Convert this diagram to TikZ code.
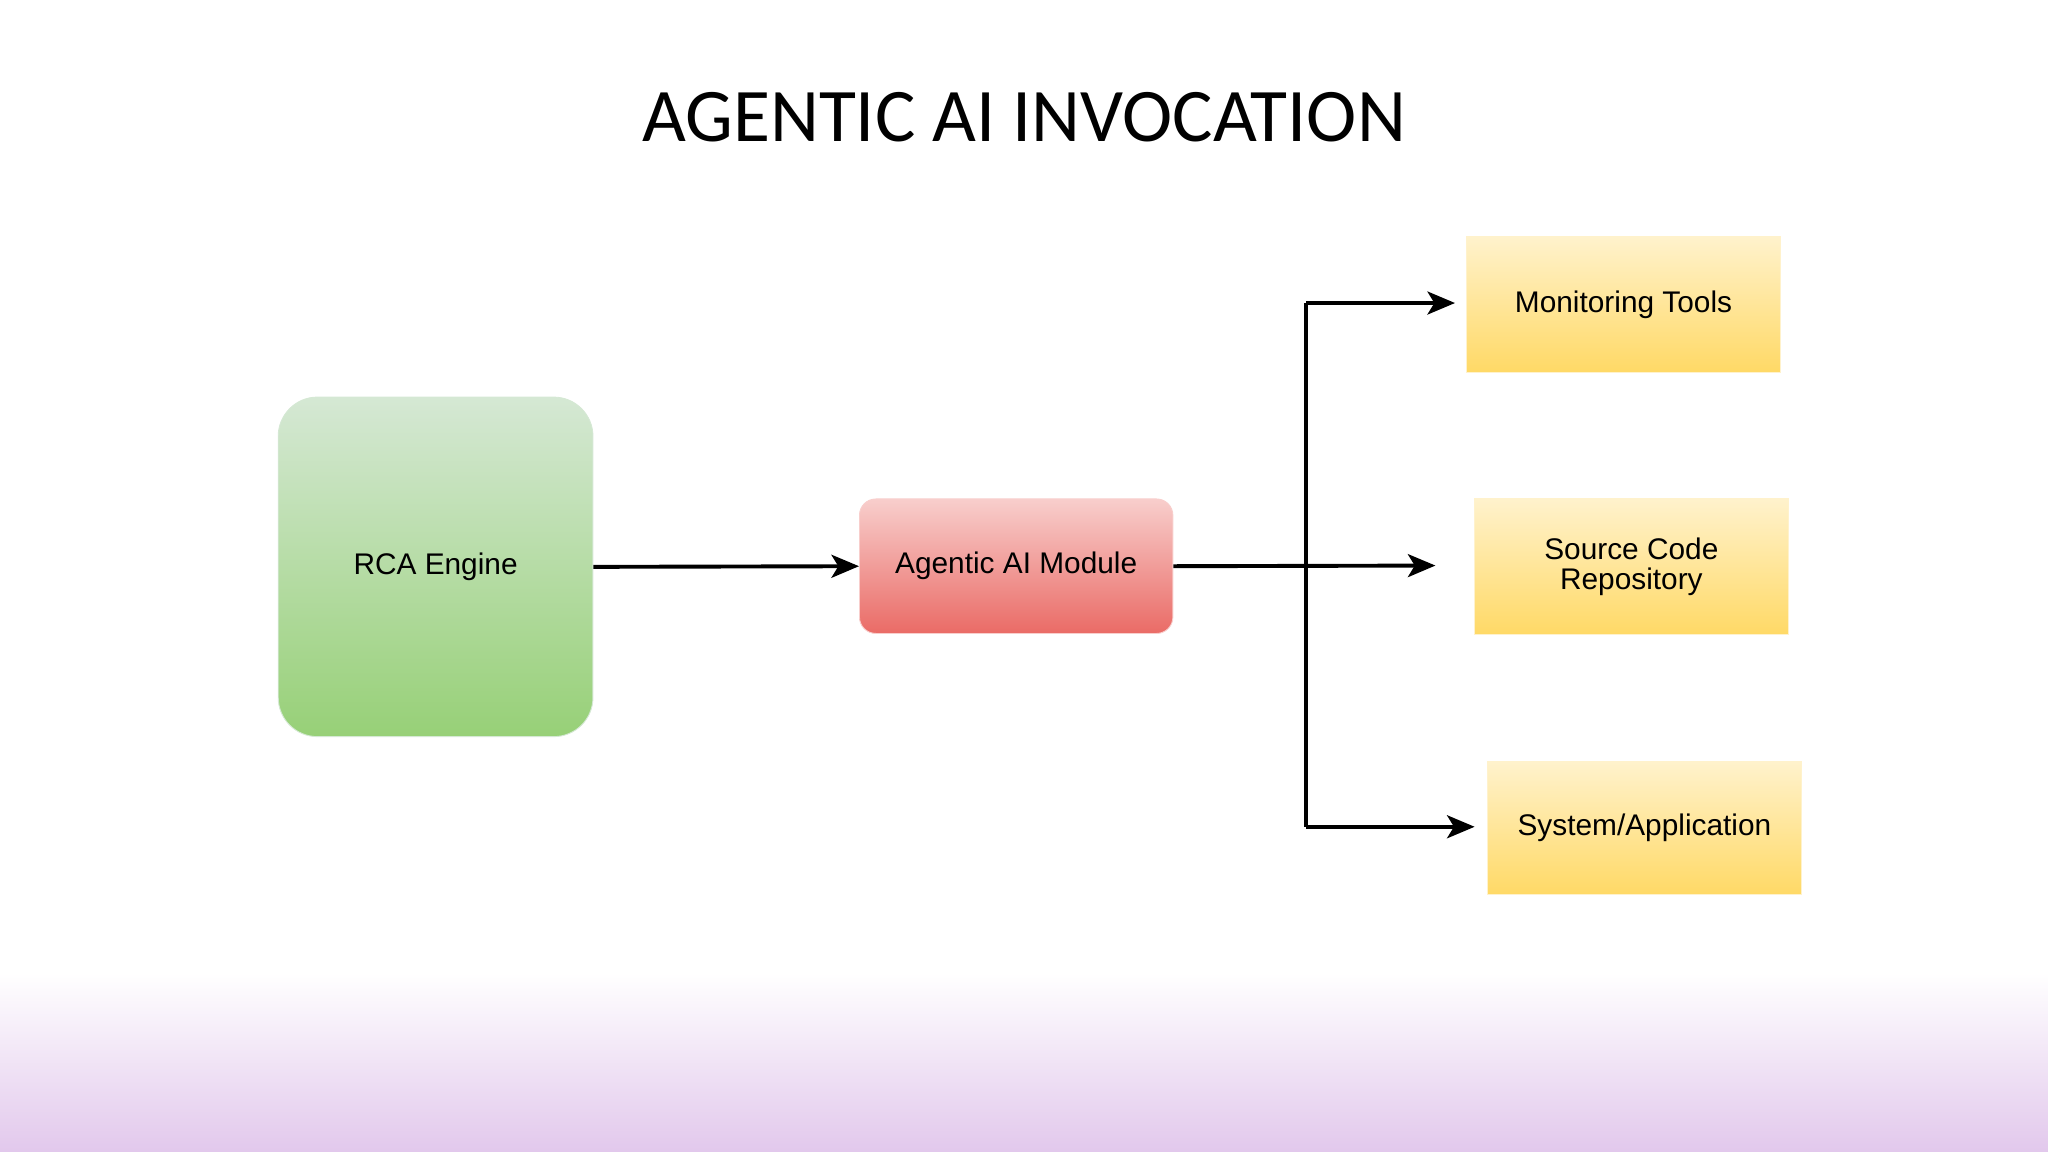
\documentclass[tikz,border=0pt]{standalone}
\usepackage{fontspec}
\setmainfont{Liberation Sans}
\newfontfamily\titlefont{Carlito}
\usetikzlibrary{arrows.meta}
\definecolor{lav}{HTML}{E2C8EC}
\definecolor{gtop}{HTML}{D5E8D4}\definecolor{gbot}{HTML}{97D077}
\definecolor{rtop}{HTML}{F8CECC}\definecolor{rbot}{HTML}{EA6B66}
\definecolor{ytop}{HTML}{FFF2CC}\definecolor{ybot}{HTML}{FFD966}
\begin{document}
\begin{tikzpicture}[x=0.02cm,y=-0.02cm,
  box/.style={draw=#1,line width=0.4pt,inner sep=0pt,align=center,font=\fontsize{13}{15}\selectfont},
  conn/.style={line width=1.7pt,-{Stealth[length=12pt,width=10pt,inset=3pt]}},
  wire/.style={line width=1.7pt}]
\useasboundingbox (0,0) rectangle (1568,882);
\shade[top color=white,bottom color=lav] (0,745) rectangle (1568,882);
\node[font=\titlefont\fontsize{33}{36}\selectfont] (title) at (784,90) {AGENTIC AI INVOCATION};
\node[box=gtop,rounded corners=0.6cm,minimum width=4.82cm,minimum height=5.2cm,top color=gtop,bottom color=gbot] (rca) at (333.5,434) {RCA Engine};
\node[box=rtop,rounded corners=0.25cm,minimum width=4.8cm,minimum height=2.06cm,top color=rtop,bottom color=rbot] (ai) at (778,433.5) {Agentic AI Module};
\node[box=ytop,minimum width=4.8cm,minimum height=2.08cm,top color=ytop,bottom color=ybot] (mon) at (1243,233) {Monitoring Tools};
\node[box=ytop,minimum width=4.8cm,minimum height=2.08cm,top color=ytop,bottom color=ybot] (src) at (1249,434) {Source Code\\[-2pt]Repository};
\node[box=ytop,minimum width=4.8cm,minimum height=2.04cm,top color=ytop,bottom color=ybot] (sys) at (1259,634) {System/Application};
\coordinate (bt) at (1000,232);
\coordinate (bb) at (1000,633);
\coordinate (e1) at (1114,232);
\coordinate (e2) at (1099,433);
\coordinate (e3) at (1129,633);
\draw[conn] (rca.east) -- (ai.west);
\draw[conn] (ai.east) -- (e2);
\draw[wire] (bt) -- (bb);
\draw[conn] (bt) -- (e1);
\draw[conn] (bb) -- (e3);
\end{tikzpicture}
\end{document}
